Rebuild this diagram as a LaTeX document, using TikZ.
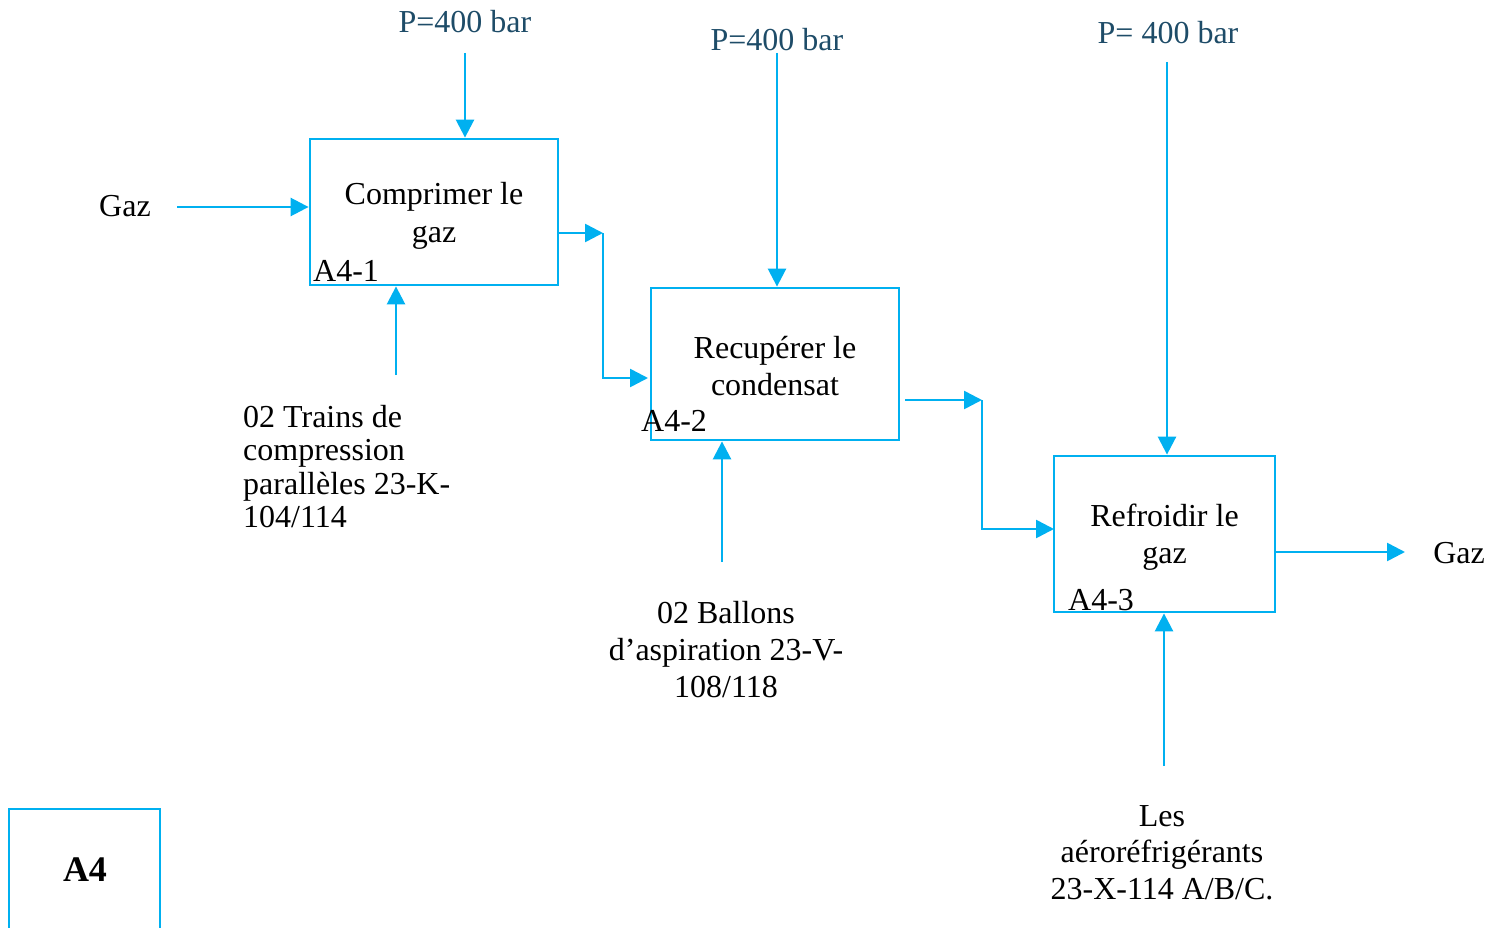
\documentclass[tikz,border=0pt]{standalone}
\usepackage{fontspec}
\setmainfont{Liberation Serif}
\usetikzlibrary{arrows.meta}
\definecolor{idefblue}{RGB}{0,176,240}
\definecolor{ctrlteal}{RGB}{30,76,104}
\begin{document}
\begin{tikzpicture}[x=1pt,y=-1pt,
  every node/.style={inner sep=0pt, font=\fontsize{32}{38}\selectfont},
  activity/.style={draw=idefblue, line width=2.8pt, align=center},
  flow/.style={draw=idefblue, line width=2.6pt, -{Triangle[length=18pt,width=18pt]}},
  plain/.style={draw=idefblue, line width=2.8pt},
  ctrl/.style={text=ctrlteal},
  code/.style={anchor=base west}]
\useasboundingbox (0,0) rectangle (1493,928);

% activity boxes
\node[activity, minimum width=248pt, minimum height=146pt] (box1) at (434,212) {\rule{0pt}{29pt}Comprimer le\\gaz};
\node[activity, minimum width=248pt, minimum height=152pt, font=\fontsize{32}{37}\selectfont] (box2) at (775,364) {\rule{0pt}{27pt}Recupérer le\\condensat};
\node[activity, minimum width=221pt, minimum height=156pt, font=\fontsize{32}{37}\selectfont] (box3) at (1164.5,534) {\rule{0pt}{29pt}Refroidir le\\gaz};

% node codes
\node[code] (c1) at (313,281) {A4-1};
\node[code] (c2) at (641,431) {A4-2};
\node[code] (c3) at (1068,610) {A4-3};

% controls
\node[ctrl] (p1) at (465,22) {P=400 bar};
\node[ctrl] (p2) at (777,40) {P=400 bar};
\node[ctrl] (p3) at (1168,33) {P= 400 bar};
\coordinate (p1s) at (465,53);
\coordinate (p2s) at (777,53);
\coordinate (p3s) at (1167,62);
\draw[flow] (p1s) -- (p1s |- box1.north);
\draw[flow] (p2s) -- (p2s |- box2.north);
\draw[flow] (p3s) -- (p3s |- box3.north);

% input and output
\node (gin) at (125,206) {Gaz};
\node (gout) at (1459,553) {Gaz};
\coordinate (gins) at (177,207);
\draw[flow] (gins) -- (gins -| box1.west);
\coordinate (goute) at (1405,552);
\draw[flow] (goute -| box3.east) -- (goute);

% links between activities
\coordinate (j1) at (603,233);
\coordinate (e2) at (648,378);
\draw[flow] (j1 -| box1.east) -- (j1);
\draw[flow] (j1) |- (e2);
\coordinate (s2) at (905,400);
\coordinate (j2) at (982,400);
\coordinate (e3) at (1054,529);
\draw[flow] (s2) -- (j2);
\draw[flow] (j2) |- (e3);

% mechanisms
\coordinate (m1) at (396,375);
\coordinate (m2) at (722,562);
\coordinate (m3) at (1164,766);
\draw[flow] (m1) -- (m1 |- box1.south);
\draw[flow] (m2) -- (m2 |- box2.south);
\draw[flow] (m3) -- (m3 |- box3.south);
\node[anchor=north west, align=left, font=\fontsize{32}{33.5}\selectfont] (t1) at (243,405) {02 Trains de\\compression\\parallèles 23-K-\\104/114};
\node[anchor=north, align=center, font=\fontsize{32}{37}\selectfont] (t2) at (726,601) {02 Ballons\\d’aspiration 23-V-\\108/118};
\node[anchor=north, align=center, font=\fontsize{32}{36.5}\selectfont] (t3) at (1162,805) {Les\\aéroréfrigérants\\23-X-114 A/B/C.};

% parent diagram tag
\draw[plain] (9,932) -- (9,809) -- (160,809) -- (160,932);
\node[font=\fontsize{36}{40}\selectfont\bfseries] (a4) at (85,870) {A4};
\end{tikzpicture}
\end{document}
